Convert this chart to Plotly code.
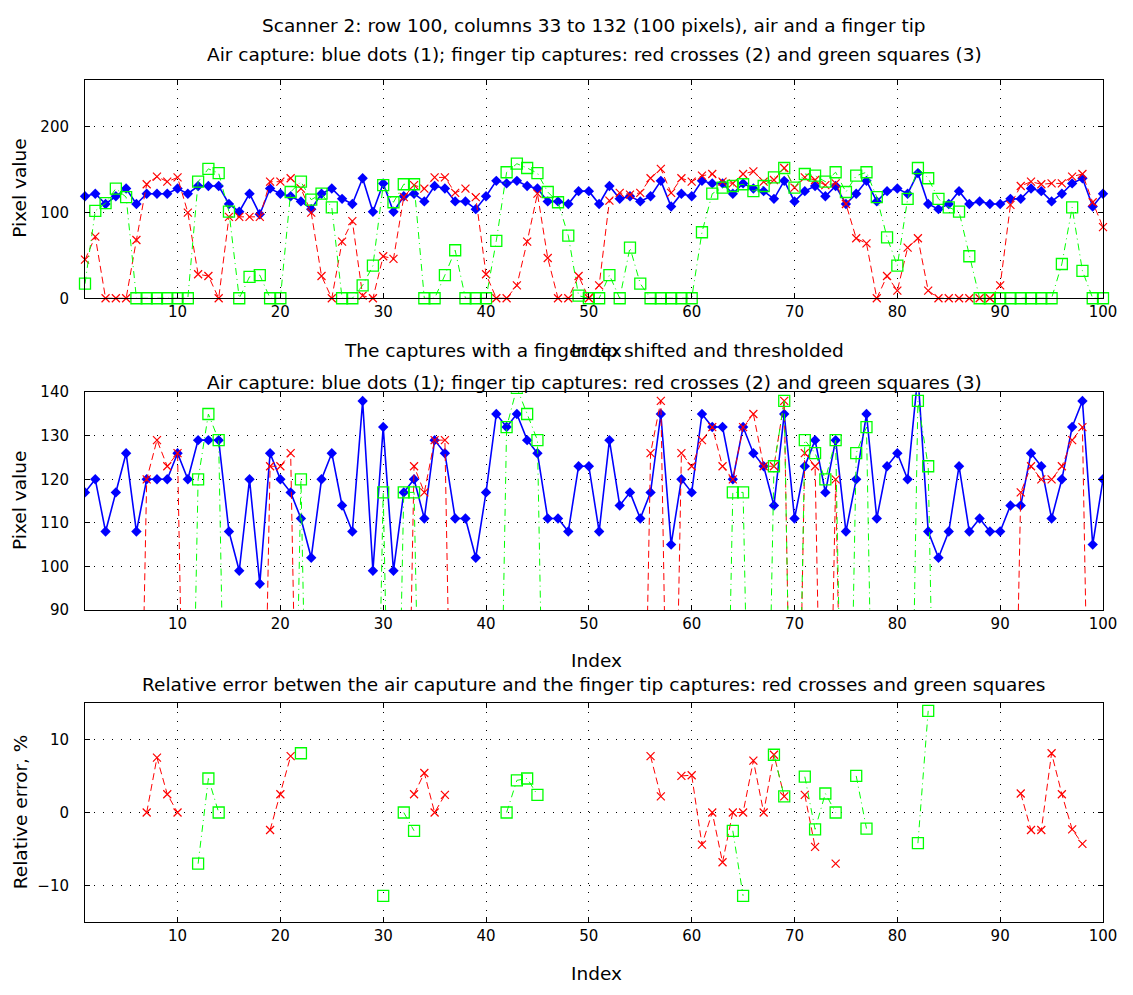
import plotly.graph_objects as go

# ---------------- data ----------------
index = list(range(1, 101))

# top panel: raw captures
air_raw = [119,122,110,119,128,110,122,122,122,128, 122,131,131,131,110,101,122,98,128,122,
           119,113,104,122,128,116,110,140,101,134, 101,119,122,113,131,128,113,113,104,119,
           137,134,137,131,128,113,113,110,125,125, 110,131,116,119,113,119,137,107,122,119,
           137,134,134,122,134,128,125,116,137,113, 125,131,119,131,110,122,137,113,125,128,
           122,146,110,104,110,125,110,113,110,110, 116,116,128,125,113,122,134,140,107,122]
tip2_raw = [45,72,0,0,0,68,133,142,136,141, 100,28,26,0,95,95,95,95,136,136,
            140,128,100,26,0,66,90,3,0,49, 46,118,132,128,141,141,123,128,118,28,
            0,0,15,66,122,47,0,0,26,0, 15,114,123,121,123,140,151,123,140,136,
            143,145,136,134,145,148,136,138,152,129, 141,138,132,134,110,70,64,0,26,9,
            59,70,9,0,0,0,0,0,0,15, 109,131,136,133,134,134,142,145,112,83]
tip3_raw = [17,102,111,128,118,0,0,0,0,0, 0,136,151,146,101,0,25,27,0,0,
            124,136,115,122,106,0,0,15,38,132, 112,133,133,0,0,27,56,0,0,0,
            67,147,157,152,146,124,112,73,3,0, 0,27,0,59,17,0,0,0,0,0,
            77,122,129,131,133,125,131,141,152,129, 145,143,136,147,124,143,147,118,71,38,
            116,152,140,116,106,101,49,0,0,0, 0,0,0,0,0,40,106,32,0,0]

# middle panel: shifted and thresholded
air_shift = [117,120,108,117,126,108,120,120,120,126, 120,129,129,129,108,99,120,96,126,120,
             117,111,102,120,126,114,108,138,99,132, 99,117,120,111,129,126,111,111,102,117,
             135,132,135,129,126,111,111,108,123,123, 108,129,114,117,111,117,135,105,120,117,
             135,132,132,120,132,126,123,114,135,111, 123,129,117,129,108,120,135,111,123,126,
             120,144,108,102,108,123,108,111,108,108, 114,114,126,123,111,120,132,138,105,120]
tip2_shift = [0,0,0,0,0,0,120,129,123,126, 0,0,0,0,0,0,0,0,123,123,
              126,0,0,0,0,0,0,0,0,0, 0,0,123,117,129,129,0,0,0,0,
              0,0,0,0,0,0,0,0,0,0, 0,0,0,0,0,126,138,0,126,123,
              129,132,123,120,132,135,123,123,138,0, 126,123,0,120,0,0,0,0,0,0,
              0,0,0,0,0,0,0,0,0,0, 0,117,123,120,120,123,129,132,0,0]
tip3_shift = [0,0,0,0,0,0,0,0,0,0, 0,120,135,129,0,0,0,0,0,0,
              0,120,0,0,0,0,0,0,0,117, 0,117,117,0,0,0,0,0,0,0,
              0,132,141,135,129,0,0,0,0,0, 0,0,0,0,0,0,0,0,0,0,
              0,0,0,117,117,0,0,123,138,0, 129,126,120,129,0,126,132,0,0,0,
              0,138,123,0,0,0,0,0,0,0, 0,0,0,0,0,0,0,0,0,0]

# bottom panel: relative error, %
N = None
err2 = [N,N,N,N,N,N,0,7.5,2.5,0, N,N,N,N,N,N,N,N,-2.4,2.5,
        7.7,N,N,N,N,N,N,N,N,N, N,N,2.5,5.4,0,2.4,N,N,N,N,
        N,N,N,N,N,N,N,N,N,N, N,N,N,N,N,7.7,2.2,N,5.0,5.1,
        -4.4,0,-6.8,0,0,7.1,0,7.9,2.2,N, 2.4,-4.7,N,-7.0,N,N,N,N,N,N,
        N,N,N,N,N,N,N,N,N,N, N,2.6,-2.4,-2.4,8.1,2.5,-2.3,-4.3,N,N]
err3 = [N,N,N,N,N,N,N,N,N,N, N,-7.0,4.65,0,N,N,N,N,N,N,
        N,8.1,N,N,N,N,N,N,N,-11.4, N,0,-2.5,N,N,N,N,N,N,N,
        N,0,4.4,4.65,2.4,N,N,N,N,N, N,N,N,N,N,N,N,N,N,N,
        N,N,N,-2.5,-11.4,N,N,7.9,2.2,N, 4.9,-2.3,2.6,0,N,5.0,-2.2,N,N,N,
        N,-4.2,13.9,N,N,N,N,N,N,N, N,N,N,N,N,N,N,N,N,N]

x_ticks = [10, 20, 30, 40, 50, 60, 70, 80, 90, 100]
y_ticks_top = [0, 100, 200]
y_ticks_mid = [90, 100, 110, 120, 130, 140]
y_ticks_bot = [-10, 0, 10]

# ---------------- figure ----------------
W, H = 1133, 995
L, R = 85, 1103
FONT = "DejaVu Sans, Liberation Sans, sans-serif"
FS = 15      # tick labels
FS_T = 18.5  # titles and axis labels
BLUE, RED, GREEN = "#0000FF", "#FF0000", "#00FF00"

fig = go.Figure()


def add_panel(n, air, t2, t3, clip):
    xa = "x" if n == 1 else f"x{n}"
    ya = "y" if n == 1 else f"y{n}"
    if air is not None:
        fig.add_trace(go.Scatter(x=index, y=air, mode="lines+markers", xaxis=xa, yaxis=ya,
                                 line=dict(color=BLUE, width=1.6),
                                 marker=dict(symbol="diamond", size=8, color=BLUE),
                                 cliponaxis=clip, showlegend=False))
    fig.add_trace(go.Scatter(x=index, y=t2, mode="lines+markers", xaxis=xa, yaxis=ya,
                             line=dict(color=RED, width=1, dash="7px,4px"),
                             marker=dict(symbol="x-thin-open", size=8,
                                         line=dict(color=RED, width=1.2)),
                             cliponaxis=clip, showlegend=False))
    fig.add_trace(go.Scatter(x=index, y=t3, mode="lines+markers", xaxis=xa, yaxis=ya,
                             line=dict(color=GREEN, width=1, dash="7px,4px,1px,4px"),
                             marker=dict(symbol="square-open", size=11,
                                         line=dict(color=GREEN, width=1.3)),
                             cliponaxis=clip, showlegend=False))


add_panel(1, air_raw, tip2_raw, tip3_raw, False)
add_panel(2, air_shift, tip2_shift, tip3_shift, True)
add_panel(3, None, err2, err3, True)


def py(p):
    return 1 - p / H


def px(p):
    return (p - L) / (R - L)


domains = {1: (py(294.6), py(72)), 2: (py(612), py(390.3)), 3: (py(930), py(706.6))}
yranges = {1: [0, 255], 2: [90, 140], 3: [-15, 15]}
yticks = {1: y_ticks_top, 2: y_ticks_mid, 3: y_ticks_bot}

grid = dict(showgrid=True, gridcolor="black", gridwidth=1, griddash="1px,8px")
axis_common = dict(showline=True, linecolor="black", linewidth=1, mirror="ticks",
                   ticks="inside", ticklen=5, tickwidth=1, tickcolor="black",
                   zeroline=False, tickfont=dict(family=FONT, size=FS, color="black"), **grid)

for n in (1, 2, 3):
    xk = "xaxis" if n == 1 else f"xaxis{n}"
    yk = "yaxis" if n == 1 else f"yaxis{n}"
    ysuffix = "y" if n == 1 else f"y{n}"
    xsuffix = "x" if n == 1 else f"x{n}"
    fig.layout[xk] = dict(domain=[0, 1], anchor=ysuffix, range=[1, 100],
                          tickmode="array", tickvals=x_ticks, ticklabelstandoff=0,
                          **axis_common)
    fig.layout[yk] = dict(domain=list(domains[n]), anchor=xsuffix, range=yranges[n],
                          tickmode="array", tickvals=yticks[n], ticklabelstandoff=12,
                          **axis_common)

texts = [
    ("Scanner 2: row 100, columns 33 to 132 (100 pixels), air and a finger tip", 594, 17, 0),
    ("Air capture: blue dots (1); finger tip captures: red crosses (2) and green squares (3)", 594, 46, 0),
    ("The captures with a finger tip shifted and thresholded", 594, 348, 0),
    ("Index", 596, 348, 0),
    ("Air capture: blue dots (1); finger tip captures: red crosses (2) and green squares (3)", 594, 380, 0),
    ("Index", 596, 663, 0),
    ("Relative error betwen the air caputure and the finger tip captures: red crosses and green squares", 594, 688, 0),
    ("Index", 596, 982, 0),
    ("Pixel value", 20, 183, -90),
    ("Pixel value", 20, 501, -90),
    ("Relative error, %", 20, 818, -90),
]
annotations = []
for t, x, y, ang in texts:
    annotations.append(dict(text=t, x=px(x), y=py(y), xref="paper", yref="paper",
                            xanchor="center", yanchor="middle", showarrow=False,
                            textangle=ang, font=dict(family=FONT, size=FS_T, color="black")))

fig.update_layout(width=W, height=H, margin=dict(l=L, r=W - R, t=0, b=0),
                  paper_bgcolor="white", plot_bgcolor="white",
                  annotations=annotations, showlegend=False,
                  font=dict(family=FONT, size=FS, color="black"))

fig.write_html("out.html")
